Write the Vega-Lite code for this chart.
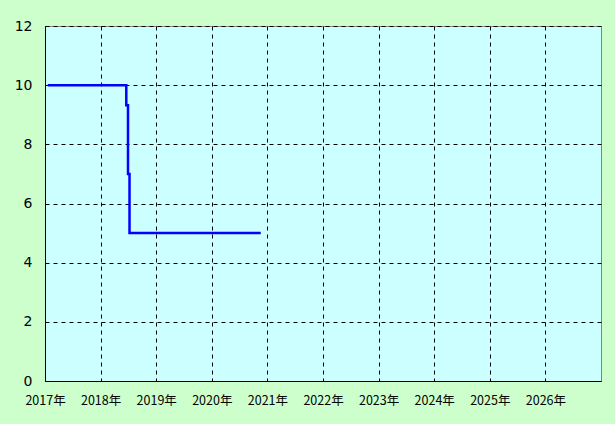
{
  "$schema": "https://vega.github.io/schema/vega-lite/v6.json",
  "width": 556,
  "height": 355,
  "autosize": {"type": "none"},
  "padding": {"left": 45, "top": 26, "right": 14, "bottom": 43},
  "background": "#ccffcc",
  "config": {
    "view": {"fill": "#ccffff", "stroke": "#808080", "strokeWidth": 1},
    "axis": {
      "labelFont": "DejaVu Sans",
      "labelFontSize": 13,
      "labelColor": "#000000",
      "ticks": false,
      "domainColor": "#000000",
      "domainWidth": 1,
      "gridColor": "#000000",
      "gridDash": [4, 4],
      "gridWidth": 1,
      "gridOpacity": 1,
      "title": null,
      "labelOverlap": false,
      "labelFlush": false
    }
  },
  "data": {
    "values": [
      {"year": 2017.05, "value": 10},
      {"year": 2018.462, "value": 10},
      {"year": 2018.462, "value": 9.32},
      {"year": 2018.493, "value": 9.32},
      {"year": 2018.493, "value": 7.0},
      {"year": 2018.52, "value": 7.0},
      {"year": 2018.52, "value": 5},
      {"year": 2020.88, "value": 5}
    ]
  },
  "mark": {"type": "line", "color": "#0000ff", "strokeWidth": 2.5, "interpolate": "linear"},
  "encoding": {
    "x": {
      "field": "year",
      "type": "quantitative",
      "scale": {"domain": [2017, 2027], "nice": false, "zero": false},
      "axis": {
        "values": [2017, 2018, 2019, 2020, 2021, 2022, 2023, 2024, 2025, 2026],
        "labelExpr": "datum.value + '年'",
        "labelPadding": 13,
        "labelFont": "Noto Sans CJK JP",
        "labelFontSize": 12.5
      }
    },
    "y": {
      "field": "value",
      "type": "quantitative",
      "scale": {"domain": [0, 12], "nice": false},
      "axis": {
        "values": [0, 2, 4, 6, 8, 10, 12],
        "labelPadding": 13,
        "labelFontSize": 14
      }
    },
    "order": {"field": "year"}
  }
}
